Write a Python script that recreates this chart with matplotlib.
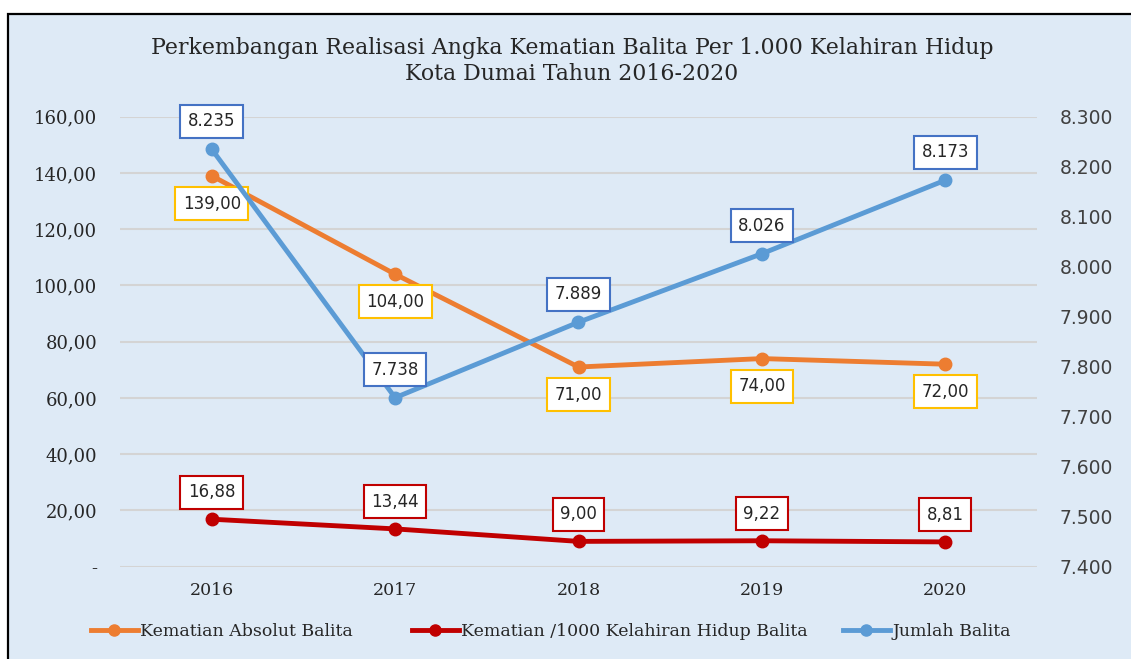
import matplotlib.pyplot as plt
from matplotlib.patches import Rectangle
from matplotlib.lines import Line2D

# data
years = ['2016', '2017', '2018', '2019', '2020']
kematian_absolut = [139.00, 104.00, 71.00, 74.00, 72.00]
kematian_per1000 = [16.88, 13.44, 9.00, 9.22, 8.81]
jumlah_balita = [8235, 7738, 7889, 8026, 8173]

left_ticks = [0, 20, 40, 60, 80, 100, 120, 140, 160]
right_ticks = [7400, 7500, 7600, 7700, 7800, 7900, 8000, 8100, 8200, 8300]

c_orange = '#ED7D31'
c_red = '#C00000'
c_blue = '#5B9BD5'
bg = '#DEEAF6'
serif = 'DejaVu Serif'
sans = 'DejaVu Sans'


def fmt_dec(v):
    return f"{v:.2f}".replace('.', ',')


def fmt_thou(v):
    return f"{v:,.0f}".replace(',', '.')


fig = plt.figure(figsize=(11.31, 6.59), dpi=100, facecolor='white')
fig.patches.append(Rectangle((8 / 1131, -0.1), 1.2, 1.1 - 13.5 / 659,
                             transform=fig.transFigure, facecolor=bg,
                             edgecolor='black', linewidth=1.6, zorder=-5))

ax = fig.add_axes([120 / 1131, 1 - 566.7 / 659, 917 / 1131, 450 / 659])
ax.set_facecolor('none')
ax2 = ax.twinx()
ax2.set_facecolor('none')

x = list(range(len(years)))

ax.plot(x, kematian_absolut, color=c_orange, lw=3.5, marker='o', ms=9, zorder=3)
ax.plot(x, kematian_per1000, color=c_red, lw=3.5, marker='o', ms=9, zorder=3)
ax2.plot(x, jumlah_balita, color=c_blue, lw=3.5, marker='o', ms=9, zorder=3)

ax.set_xlim(-0.5, len(years) - 0.5)
ax.set_ylim(0, 160)
ax2.set_ylim(7400, 8300)

ax.set_yticks(left_ticks)
ax.set_yticklabels(['-' if t == 0 else fmt_dec(t) for t in left_ticks],
                   fontfamily=serif, fontsize=13, color='#262626')
ax2.set_yticks(right_ticks)
ax2.set_yticklabels([fmt_thou(t) for t in right_ticks],
                    fontfamily=sans, fontsize=13.5, color='#404040')
ax.set_xticks(x)
ax.set_xticklabels(years, fontfamily=serif, fontsize=12.5, color='#262626')

ax.tick_params(axis='y', length=0, pad=16.5)
ax2.tick_params(axis='y', length=0, pad=16.5)
ax.tick_params(axis='x', length=0, pad=11)

ax.grid(axis='y', color='#D4D4D4', lw=1.5)
ax.set_axisbelow(True)
for a in (ax, ax2):
    for s in a.spines.values():
        s.set_visible(False)


def label(a, xs, ys, texts, edge, dy):
    for xi, yi, t in zip(xs, ys, texts):
        a.annotate(t, (xi, yi), xytext=(0, dy), textcoords='offset points',
                   ha='center', va='center', fontfamily=sans, fontsize=12,
                   color='#262626', zorder=5,
                   bbox=dict(boxstyle='square,pad=0.45', fc='white',
                             ec=edge, lw=1.5))


label(ax, x, kematian_absolut, [fmt_dec(v) for v in kematian_absolut], '#FFC000', -20)
label(ax, x, kematian_per1000, [fmt_dec(v) for v in kematian_per1000], c_red, 19.5)
label(ax2, x, jumlah_balita, [fmt_thou(v) for v in jumlah_balita], '#4472C4', 20)

fig.text(572 / 1131, 1 - 61 / 659,
         'Perkembangan Realisasi Angka Kematian Balita Per 1.000 Kelahiran Hidup\n'
         'Kota Dumai Tahun 2016-2020',
         ha='center', va='center', fontfamily=serif, fontsize=15.8,
         color='#262626', linespacing=1.2)

# legend entries placed one by one, like the uneven spacing of the original
names = ['Kematian Absolut Balita', 'Kematian /1000 Kelahiran Hidup Balita',
         'Jumlah Balita']
colors = [c_orange, c_red, c_blue]
legend_x = [91, 412, 843]
for name, c, lx in zip(names, colors, legend_x):
    h = Line2D([], [], color=c, lw=3.5, marker='o', ms=8)
    leg = fig.legend([h], [name], loc='center left',
                     bbox_to_anchor=(lx / 1131, 1 - 632 / 659),
                     frameon=False, handlelength=2.7, handletextpad=0.15,
                     borderpad=0, borderaxespad=0,
                     prop={'family': serif, 'size': 12.5})
    for t in leg.get_texts():
        t.set_color('#262626')

plt.savefig('out.png', dpi=100, facecolor='white')
